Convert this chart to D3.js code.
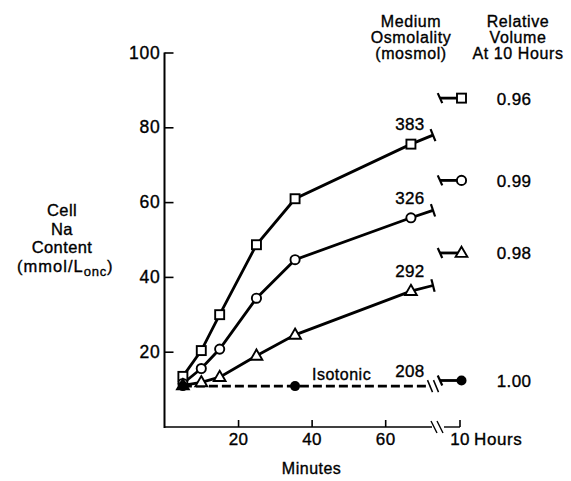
<!DOCTYPE html>
<html><head><meta charset="utf-8">
<script src="https://cdn.jsdelivr.net/npm/d3@7"></script>
<style>
body{margin:0;background:#fff}
text{font-family:"Liberation Sans",Arial,sans-serif;fill:#000;stroke:#000;stroke-width:0.35px}
</style>
</head><body><svg id="c" width="571" height="481"></svg>
<script>
// ---------- data ----------
const minutes = [5, 10, 15, 25, 35.5, 67];
const na383 = [13.4, 20.3, 29.9, 48.6, 60.9, 75.5];
const na326 = [11.5, 15.5, 20.7, 34.3, 44.6, 55.8];
const na292 = [11.0, 11.8, 13.2, 18.9, 24.5, 36.2];
const isoMinutes = [5, 35.5];
const isoValues = [10.8, 10.8];
const breakMinute = 73;                       // where the minute curves are cut
const breakValues = [77.9, 57.8, 37.7, 10.8]; // curve value at the cut
const hourValues = [87.8, 65.8, 46.4, 12.3];  // value at 10 hours
const osmLabels = ["383", "326", "292", "208"];
const relVolumes = ["0.96", "0.99", "0.98", "1.00"];
const markerTypes = ["square", "circle", "triangle", "dot"];
const yTicks = [20, 40, 60, 80, 100];
const xTicks = [20, 40, 60];
const hourTickLabel = "10";
const yLabelLines = ["Cell", "Na", "Content"];
const header1 = ["Medium", "Osmolality", "(mosmol)"];
const header2 = ["Relative", "Volume", "At 10 Hours"];

// ---------- layout ----------
const svg = d3.select("#c");
const x = d3.scaleLinear().domain([0, breakMinute]).range([164.5, 433]);
const y = d3.scaleLinear().domain([0, 100]).range([426.5, 52.5]);
const xHour = 460;        // position of the 10 hour column
const axisY = 427;
const numFont = 17;
const FF = '"Liberation Sans",Arial,sans-serif';

const g = svg.append("g");

// y axis
const yAxis = g.append("g").attr("transform", `translate(${x(0)},0)`)
  .call(d3.axisLeft(y).tickValues(yTicks).tickSizeInner(-9).tickSizeOuter(0).tickPadding(4));
yAxis.select(".domain").remove();
yAxis.append("line").attr("x1", 0).attr("x2", 0).attr("y1", y(100)).attr("y2", axisY + 1)
  .attr("stroke", "#000").attr("stroke-width", 2);
yAxis.selectAll(".tick line").attr("stroke-width", 1.6);
yAxis.selectAll("text").attr("font-size", 17.5).attr("letter-spacing", 0.8).style("font-family", FF);

// x axis
const xAxis = g.append("g").attr("transform", `translate(0,${axisY})`)
  .call(d3.axisBottom(x).tickValues(xTicks).tickSizeInner(-7).tickSizeOuter(0).tickPadding(6));
xAxis.select(".domain").remove();
xAxis.selectAll(".tick line").attr("stroke-width", 1.6);
xAxis.selectAll("text").attr("font-size", numFont).attr("letter-spacing", 0.4).style("font-family", FF);
const xEnd = x(breakMinute) - 1;
xAxis.append("line").attr("x1", x(0)).attr("x2", xEnd).attr("y1", 0).attr("y2", 0)
  .attr("stroke", "#000").attr("stroke-width", 1.6);
xAxis.append("line").attr("x1", xEnd + 12).attr("x2", xHour).attr("y1", 0).attr("y2", 0)
  .attr("stroke", "#000").attr("stroke-width", 1.4);
[xEnd + 2, xEnd + 8].forEach(bx => {
  xAxis.append("line").attr("x1", bx - 3).attr("x2", bx + 3).attr("y1", -6).attr("y2", 6)
    .attr("stroke", "#000").attr("stroke-width", 1.4);
});
xAxis.append("line").attr("x1", xHour).attr("x2", xHour).attr("y1", 0).attr("y2", -7)
  .attr("stroke", "#000").attr("stroke-width", 1.6);
xAxis.append("text").attr("x", xHour).attr("y", 18).attr("text-anchor", "middle")
  .attr("font-size", numFont).attr("letter-spacing", 0.4).text(hourTickLabel);
xAxis.append("text").attr("x", xHour + 14).attr("y", 18).attr("text-anchor", "start")
  .attr("font-size", numFont).attr("letter-spacing", 0.6).text("Hours");
g.append("text").attr("x", x(40)).attr("y", 474).attr("text-anchor", "middle")
  .attr("font-size", 16).attr("letter-spacing", 0.5).text("Minutes");

// y label
const yl = g.append("text").attr("text-anchor", "middle").attr("font-size", 16.5).attr("letter-spacing", 0.4);
yLabelLines.forEach((t, i) => yl.append("tspan").attr("x", 62).attr("y", 216 + i * 18.5).text(t));
const yl4 = yl.append("tspan").attr("x", 65).attr("y", 216 + 3 * 18.5).attr("letter-spacing", 1);
yl4.text("(mmol/L");
yl.append("tspan").attr("dy", 4).attr("font-size", 13).attr("letter-spacing", 0.8).text("onc");
yl.append("tspan").attr("dy", -4).text(")");

// headers
[[header1, 411], [header2, 518]].forEach(([lines, cx]) => {
  const t = g.append("text").attr("text-anchor", "middle").attr("font-size", 16).attr("letter-spacing", 0.6);
  lines.forEach((s, i) => t.append("tspan").attr("x", cx).attr("y", 26.5 + i * 16).text(s));
});

// ---------- series ----------
const sw = 2.8;
function drawMarker(type, cx, cy) {
  if (type === "square") {
    g.append("rect").attr("x", cx - 4.5).attr("y", cy - 4.5).attr("width", 9).attr("height", 9)
      .attr("fill", "#fff").attr("stroke", "#000").attr("stroke-width", 1.9);
  } else if (type === "circle") {
    g.append("circle").attr("cx", cx).attr("cy", cy).attr("r", 4.6)
      .attr("fill", "#fff").attr("stroke", "#000").attr("stroke-width", 1.9);
  } else if (type === "triangle") {
    g.append("path").attr("d", d3.symbol(d3.symbolTriangle, 60)())
      .attr("transform", `translate(${cx},${cy + 0.5})`)
      .attr("fill", "#fff").attr("stroke", "#000").attr("stroke-width", 1.9);
  } else {
    g.append("circle").attr("cx", cx).attr("cy", cy).attr("r", 5).attr("fill", "#000");
  }
}
function bar(cx, cy, dx, dy, len) {
  const n = Math.hypot(dx, dy);
  const px = -dy / n * len / 2, py = dx / n * len / 2;
  g.append("line").attr("x1", cx - px).attr("y1", cy - py).attr("x2", cx + px).attr("y2", cy + py)
    .attr("stroke", "#000").attr("stroke-width", 2.2);
}

const line = d3.line().x(d => x(d[0])).y(d => y(d[1]));
const solid = [na383, na326, na292];
solid.forEach((vals, si) => {
  const pts = minutes.map((m, i) => [m, vals[i]]).concat([[breakMinute, breakValues[si]]]);
  g.append("path").attr("d", line(pts)).attr("fill", "none").attr("stroke", "#000").attr("stroke-width", sw);
  const a = pts[pts.length - 2], b = pts[pts.length - 1];
  bar(x(b[0]), y(b[1]), x(b[0]) - x(a[0]), y(b[1]) - y(a[1]), 13);
});
// isotonic dashed
const isoPts = isoMinutes.map((m, i) => [m, isoValues[i]]).concat([[breakMinute - 0.8, breakValues[3]]]);
g.append("path").attr("d", line(isoPts)).attr("fill", "none").attr("stroke", "#000")
  .attr("stroke-width", sw).attr("stroke-dasharray", "9,4");
[xEnd - 2, xEnd + 4].forEach(bx => {
  g.append("line").attr("x1", bx - 2.5).attr("x2", bx + 2.5).attr("y1", y(breakValues[3]) - 6)
    .attr("y2", y(breakValues[3]) + 6).attr("stroke", "#000").attr("stroke-width", 1.5);
});

// 10-hour stubs
hourValues.forEach((v, si) => {
  const cy = y(v);
  const sx = xHour - 20;
  g.append("line").attr("x1", sx).attr("x2", xHour).attr("y1", cy).attr("y2", cy)
    .attr("stroke", "#000").attr("stroke-width", sw);
  bar(sx, cy, 1, -0.45, 11);
});

// markers
solid.forEach((vals, si) => minutes.forEach((m, i) => drawMarker(markerTypes[si], x(m), y(vals[i]))));
isoMinutes.forEach((m, i) => drawMarker("dot", x(m), y(isoValues[i])));
hourValues.forEach((v, si) => drawMarker(markerTypes[si], xHour + 1.5, y(v)));

// labels
osmLabels.forEach((s, si) => {
  const base = si < 3 ? y(solid[si][5]) - 14 : y(isoValues[1]) - 9;
  g.append("text").attr("x", x(minutes[5]) - 1).attr("y", base).attr("text-anchor", "middle")
    .attr("font-size", numFont).attr("letter-spacing", 0.4).text(s);
});
g.append("text").attr("x", 312).attr("y", y(isoValues[1]) - 6.5).attr("text-anchor", "start")
  .attr("font-size", 16).attr("letter-spacing", 0.5).text("Isotonic");
relVolumes.forEach((s, si) => {
  g.append("text").attr("x", 514).attr("y", y(hourValues[si]) + 6.5).attr("text-anchor", "middle")
    .attr("font-size", numFont).attr("letter-spacing", 0.4).text(s);
});
</script>
</body></html>
